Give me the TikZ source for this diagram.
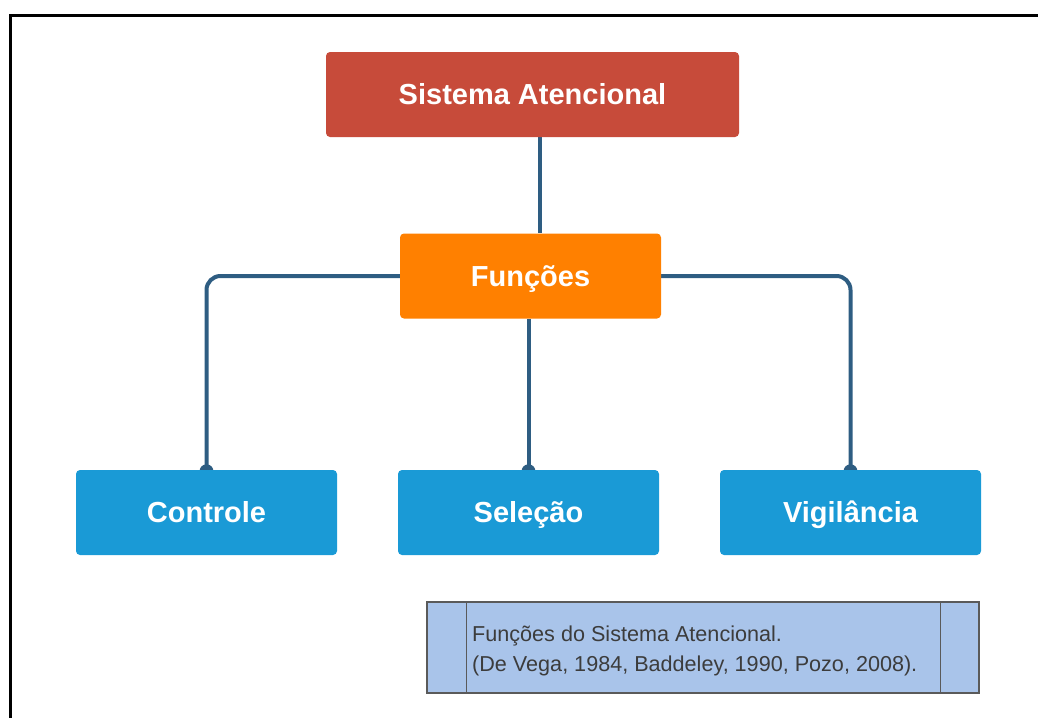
\documentclass[tikz,border=0pt]{standalone}
\usepackage{fontspec}
\setmainfont{Liberation Sans}
\usetikzlibrary{backgrounds}
\definecolor{redbox}{HTML}{C74B3A}
\definecolor{orangebox}{HTML}{FF8000}
\definecolor{bluebox}{HTML}{1A9AD6}
\definecolor{linkcol}{HTML}{2E5D82}
\definecolor{notefill}{HTML}{A9C4EA}
\definecolor{noteedge}{HTML}{5A5A5A}
\definecolor{notetext}{HTML}{3C3C3C}
\tikzset{
  mainbox/.style={rounded corners=4pt, minimum height=85pt, inner sep=0pt,
    text height=20.2pt, text depth=0pt,
    text=white, font=\fontsize{29}{34}\selectfont\bfseries},
  link/.style={draw=linkcol, line width=4pt, rounded corners=14pt},
  enddot/.style={fill=linkcol, draw=none},
  notebox/.style={draw=noteedge, line width=1.2pt, fill=notefill, inner sep=0pt},
  frameline/.style={draw=black, line width=3pt}
}
\begin{document}
\begin{tikzpicture}[x=1pt,y=-1pt]
\useasboundingbox (0,0) rectangle (1038,718);
% frame
\draw[frameline] (1038,15) -- (10,15) -- (10,718);
% nodes
\node[mainbox, fill=redbox, minimum width=413pt] (sis) at (532.5,94.5) {Sistema Atencional};
\node[mainbox, fill=orangebox, minimum width=261pt] (fun) at (530.5,276) {Funções};
\node[mainbox, fill=bluebox, minimum width=261pt] (ctl) at (206.5,512.5) {Controle};
\node[mainbox, fill=bluebox, minimum width=261pt] (sel) at (528.5,512.5) {Seleção};
\node[mainbox, fill=bluebox, minimum width=261pt] (vig) at (850.5,512.5) {Vigilância};
% connectors
\begin{scope}[on background layer]
\draw[link] (sis.south -| 540,0) -- (fun.north -| 540,0);
\draw[link] (fun.west) -| (ctl.north);
\draw[link] (fun.south -| sel.north) -- (sel.north);
\draw[link] (fun.east) -| (vig.north);
\fill[enddot] ([yshift=-1.5pt]ctl.north) circle (7pt);
\fill[enddot] ([yshift=-1.5pt]sel.north) circle (7pt);
\fill[enddot] ([yshift=-1.5pt]vig.north) circle (7pt);
\end{scope}
% note box
\node[notebox, minimum width=552pt, minimum height=91pt] (note) at (703,647.5) {};
\draw[noteedge, line width=1.2pt] (note.north west) ++(40,0) coordinate (nl1) -- (nl1 |- note.south);
\draw[noteedge, line width=1.2pt] (note.north east) ++(-39,0) coordinate (nr1) -- (nr1 |- note.south);
\node[anchor=west, align=left, inner sep=0pt, text=notetext,
  font=\fontsize{21.6}{30}\selectfont] (notetxt) at (472,650.5)
  {Funções do Sistema Atencional.\\(De Vega, 1984, Baddeley, 1990, Pozo, 2008).};
\end{tikzpicture}
\end{document}
